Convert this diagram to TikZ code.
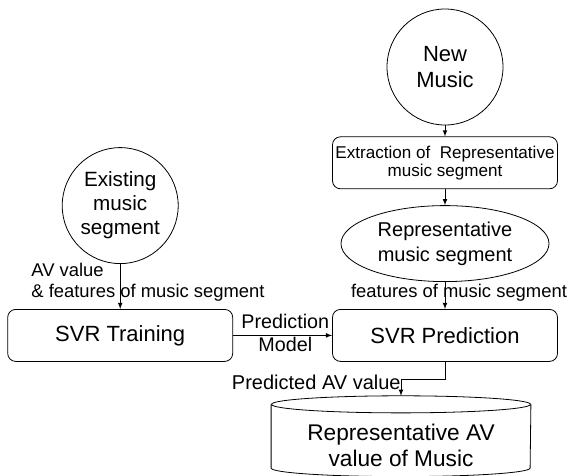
\documentclass[tikz,border=0pt]{standalone}
\usepackage{fontspec}
\setmainfont{Liberation Sans}
\usetikzlibrary{shapes,arrows,positioning,calc}

\begin{document}
\begin{tikzpicture}[
    x=0.75pt, y=-0.75pt,
    >=latex,
    line width=0.6pt,
    box/.style={rectangle, draw, rounded corners=6pt, minimum width=168.75pt, minimum height=39pt, align=center, inner sep=1pt},
    bigbox/.style={box, font=\fontsize{16.5}{19}\selectfont},
    round/.style={circle, draw, align=center, inner sep=0pt, minimum size=87pt, font=\fontsize{15.5}{18}\selectfont},
    storearea/.style={rectangle, minimum width=194.25pt, minimum height=60pt, inner sep=0pt},
    lbl/.style={inner sep=0pt, align=left, font=\fontsize{13.8}{16}\selectfont}
]
    \useasboundingbox (0,0) rectangle (574,475);

    % New music path
    \node[round, font=\fontsize{16.5}{19}\selectfont] (newmusic) at (445,67) {New\\Music};
    \node[box, font=\fontsize{12.8}{13.5}\selectfont, below=8.25pt of newmusic] (extract) {Extraction of~ Representative\\music segment};
    \node[ellipse, draw, minimum width=156pt, minimum height=57pt, inner sep=0pt, align=center, font=\fontsize{15}{19}\selectfont, below=12pt of extract] (repseg) {Representative\\music segment};
    \node[bigbox, below=20.25pt of repseg] (predict) {SVR Prediction};

    % Training path
    \node[bigbox, left=74.25pt of predict] (training) {SVR Training};
    \node[round, above=33.75pt of training] (existing) {Existing\\music\\segment};

    % Result (cylinder)
    \node[storearea, below=25.5pt of predict, xshift=-33pt] (result) {};
    \draw ([yshift=-6.4pt]result.north west) -- ([yshift=6.4pt]result.south west)
        arc[start angle=180, end angle=360, x radius=97.125pt, y radius=6.4pt]
        -- ([yshift=-6.4pt]result.north east);
    \draw ([yshift=-6.4pt]result.north) ellipse[x radius=97.125pt, y radius=6.4pt];
    \node[align=center, font=\fontsize{17}{20}\selectfont] (resulttxt) at ([yshift=-7pt]result.center) {Representative AV\\value of Music};

    % Labels
    \node[lbl, anchor=west] (avlbl) at (31,282) {AV value\\\& features of music segment};
    \node[lbl] (featlbl) at (459,293) {features of music segment};
    \node[lbl, font=\fontsize{15}{17}\selectfont, anchor=east] (predlbl) at (401,382) {Predicted AV value};

    % Edges
    \draw[->] (newmusic) -- (extract);
    \draw[->] (extract) -- (repseg);
    \draw[->] (repseg) -- (predict);
    \draw[->] (existing) -- (training);
    \draw[->] (training) -- (predict)
        node[midway, above=5pt, lbl, font=\fontsize{14.8}{17}\selectfont, xshift=2pt] {Prediction}
        node[midway, below=1pt, lbl, font=\fontsize{14.8}{17}\selectfont, xshift=2pt] {Model};
    \draw[->] (predict.south) -- ++(0,18) -| (result.north);
\end{tikzpicture}
\end{document}
